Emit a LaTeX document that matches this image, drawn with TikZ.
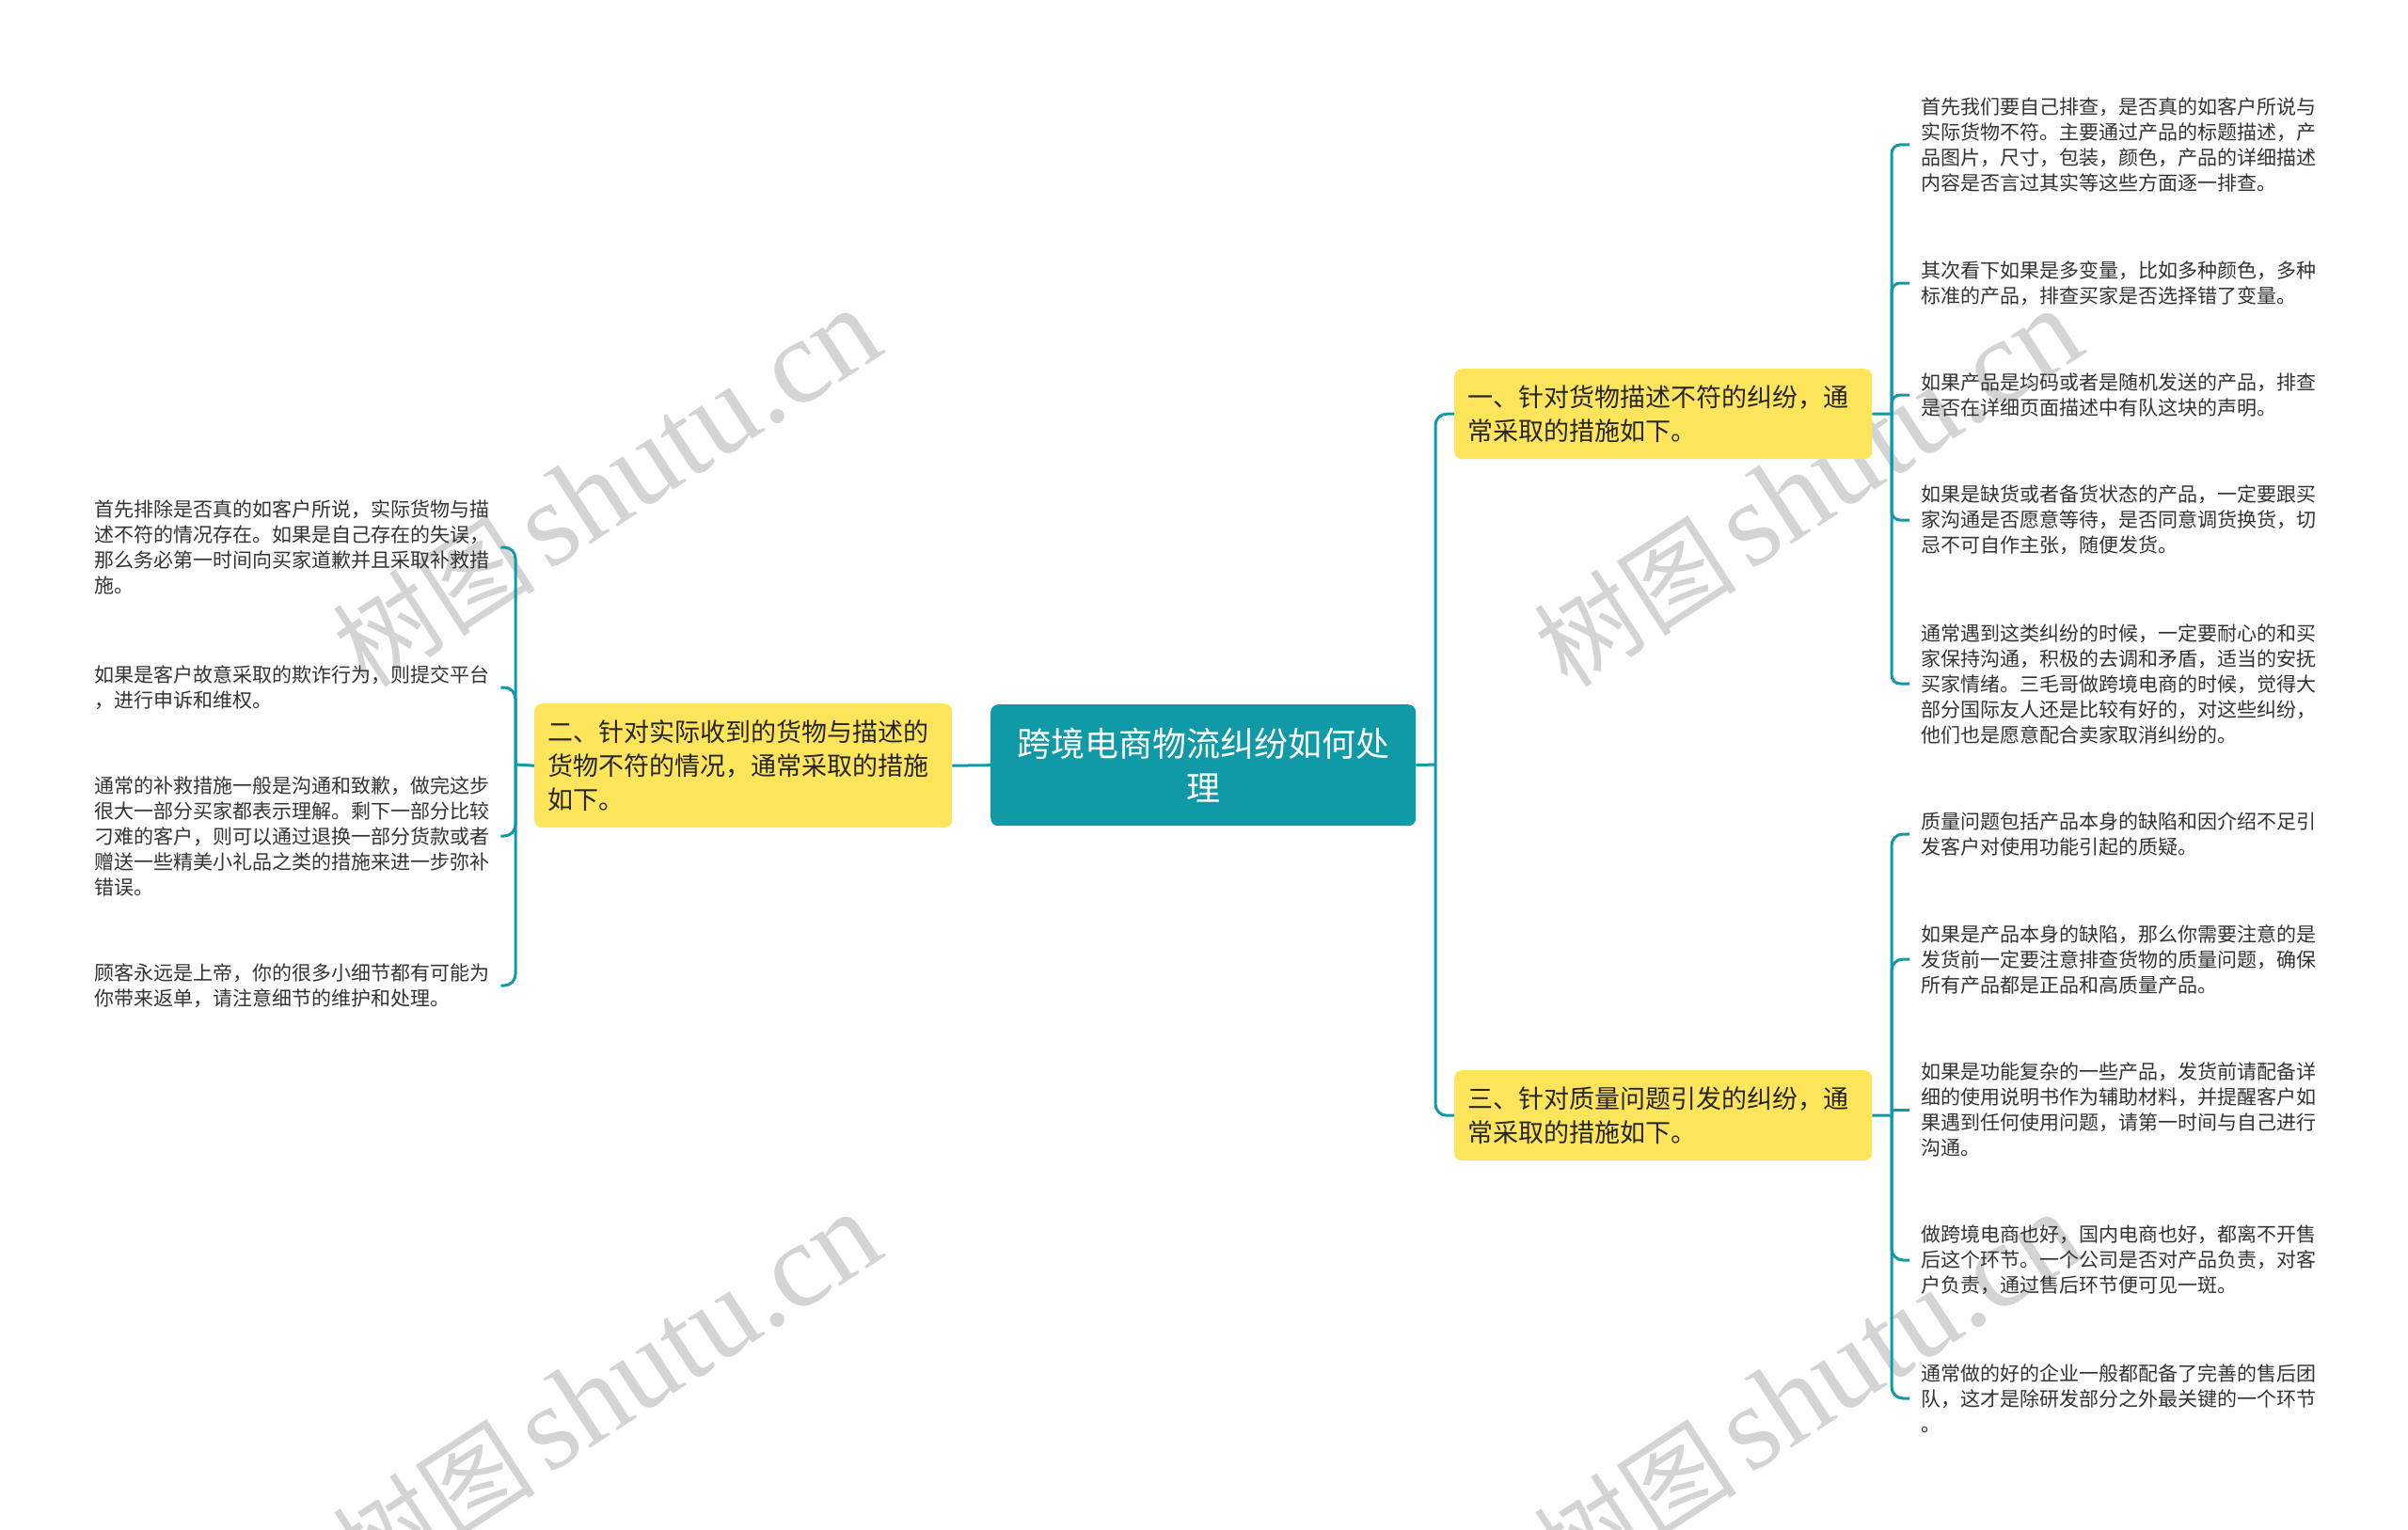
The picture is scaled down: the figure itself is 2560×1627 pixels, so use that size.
\documentclass[tikz,border=0pt]{standalone}
\usepackage{fontspec}
\newfontfamily\cjk{Noto Sans CJK SC}
\newfontfamily\wmlatin{Liberation Serif}
\definecolor{tealc}{HTML}{109AA8}
\definecolor{yel}{HTML}{FFE55C}
\definecolor{txt}{HTML}{333333}
\definecolor{wm}{HTML}{D4D4D4}
\begin{document}
\begin{tikzpicture}[x=1pt,y=-1pt,
  conn/.style={draw=tealc,line width=3pt,rounded corners=12pt},
  leaf/.style={font=\cjk\fontsize{21}{27}\selectfont, text=txt, align=left, inner sep=0pt, anchor=west},
  sub/.style={fill=yel, rounded corners=8pt, font=\cjk\fontsize{27}{36}\selectfont, text=black!85, align=left, text width=416pt, inner xsep=14pt, inner ysep=0pt, anchor=north west},
  root/.style={fill=tealc, rounded corners=8pt, font=\cjk\fontsize{36}{47}\selectfont, text=white, align=center, text width=420pt, inner xsep=16pt, inner ysep=0pt, minimum height=129pt, anchor=north west},
  wmark/.style={rotate=33, text=wm, inner sep=0pt}
]
\useasboundingbox[fill=white] (0,0) rectangle (2560,1627);

% watermarks
\newcommand{\wmtext}{{\cjk\fontsize{108}{108}\selectfont 树图}\hspace{14pt}{\wmlatin\fontsize{128}{128}\selectfont shutu.cn}}
\node[wmark] (w1) at (645,519) {\wmtext};
\node[wmark] (w2) at (1922,519) {\wmtext};
\node[wmark] (w3) at (645,1480) {\wmtext};
\node[wmark] (w4) at (1922,1480) {\wmtext};

% main nodes
\node[root] (c) at (1053,749) {跨境电商物流纠纷如何处\\理};
\node[sub, minimum height=132pt] (b2) at (568,748) {二、针对实际收到的货物与描述的\\货物不符的情况，通常采取的措施\\如下。};
\node[sub, minimum height=96pt] (b1) at (1546,392) {一、针对货物描述不符的纠纷，通\\常采取的措施如下。};
\node[sub, minimum height=96pt] (b3) at (1546,1138) {三、针对质量问题引发的纠纷，通\\常采取的措施如下。};

% left leaves
\node[leaf] (l1) at (100,582) {首先排除是否真的如客户所说，实际货物与描\\述不符的情况存在。如果是自己存在的失误，\\那么务必第一时间向买家道歉并且采取补救措\\施。};
\node[leaf] (l2) at (100,731) {如果是客户故意采取的欺诈行为，则提交平台\\，进行申诉和维权。};
\node[leaf] (l3) at (100,889) {通常的补救措施一般是沟通和致歉，做完这步\\很大一部分买家都表示理解。剩下一部分比较\\刁难的客户，则可以通过退换一部分货款或者\\赠送一些精美小礼品之类的措施来进一步弥补\\错误。};
\node[leaf] (l4) at (100,1048) {顾客永远是上帝，你的很多小细节都有可能为\\你带来返单，请注意细节的维护和处理。};

% right leaves group 1
\node[leaf] (r1) at (2042,154) {首先我们要自己排查，是否真的如客户所说与\\实际货物不符。主要通过产品的标题描述，产\\品图片，尺寸，包装，颜色，产品的详细描述\\内容是否言过其实等这些方面逐一排查。};
\node[leaf] (r2) at (2042,301) {其次看下如果是多变量，比如多种颜色，多种\\标准的产品，排查买家是否选择错了变量。};
\node[leaf] (r3) at (2042,420) {如果产品是均码或者是随机发送的产品，排查\\是否在详细页面描述中有队这块的声明。};
\node[leaf] (r4) at (2042,553) {如果是缺货或者备货状态的产品，一定要跟买\\家沟通是否愿意等待，是否同意调货换货，切\\忌不可自作主张，随便发货。};
\node[leaf] (r5) at (2042,727) {通常遇到这类纠纷的时候，一定要耐心的和买\\家保持沟通，积极的去调和矛盾，适当的安抚\\买家情绪。三毛哥做跨境电商的时候，觉得大\\部分国际友人还是比较有好的，对这些纠纷，\\他们也是愿意配合卖家取消纠纷的。};

% right leaves group 2
\node[leaf] (r6) at (2042,887) {质量问题包括产品本身的缺陷和因介绍不足引\\发客户对使用功能引起的质疑。};
\node[leaf] (r7) at (2042,1020) {如果是产品本身的缺陷，那么你需要注意的是\\发货前一定要注意排查货物的质量问题，确保\\所有产品都是正品和高质量产品。};
\node[leaf] (r8) at (2042,1180) {如果是功能复杂的一些产品，发货前请配备详\\细的使用说明书作为辅助材料，并提醒客户如\\果遇到任何使用问题，请第一时间与自己进行\\沟通。};
\node[leaf] (r9) at (2042,1340) {做跨境电商也好，国内电商也好，都离不开售\\后这个环节。一个公司是否对产品负责，对客\\户负责，通过售后环节便可见一斑。};
\node[leaf] (r10) at (2042,1487) {通常做的好的企业一般都配备了完善的售后团\\队，这才是除研发部分之外最关键的一个环节\\。};

% junction coordinates
\coordinate (jL) at (548,813);
\coordinate (jR) at (1526,813);
\coordinate (j1) at (2011,440);
\coordinate (j3) at (2011,1186);

% connectors
\draw[conn] (c.west) -- (b2.east);
\draw[conn] (b2.west) -- (jL);
\foreach \n in {l1,l2,l3,l4} {
  \draw[conn] (jL) |- ([xshift=12pt]\n.east);
}
\draw[conn] (c.east) -- (jR);
\draw[conn] (jR) |- (b1.west);
\draw[conn] (jR) |- (b3.west);
\draw[conn] (b1.east) -- (j1);
\draw[conn] (b3.east) -- (j3);
\foreach \n in {r1,r2,r3,r4,r5} {
  \draw[conn, rounded corners=9pt] (j1) |- ([xshift=-12pt]\n.west);
}
\foreach \n in {r6,r7,r9,r10} {
  \draw[conn] (j3) |- ([xshift=-12pt]\n.west);
}
\draw[conn, sharp corners] (j3) |- ([xshift=-12pt]r8.west);
\end{tikzpicture}
\end{document}
